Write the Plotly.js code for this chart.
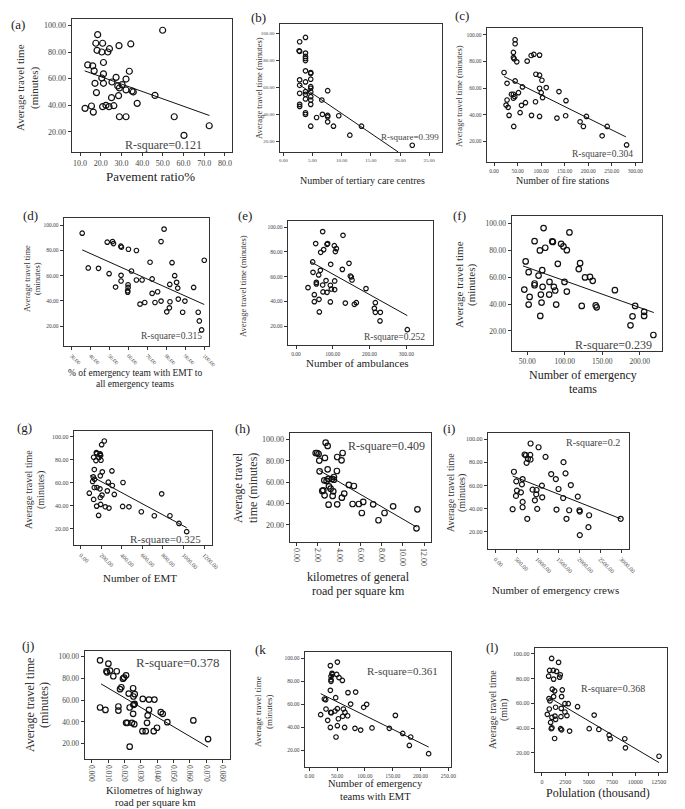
<!DOCTYPE html>
<html><head><meta charset="utf-8">
<script src="https://cdn.plot.ly/plotly-3.0.1.min.js"></script>
<style>html,body{margin:0;padding:0;background:#fff}#c{width:685px;height:809px}</style>
</head><body><div id="c"></div>
<script>
// ---- data (y = average travel time, minutes) ----
const aX=[18.5,49.9,17.6,20.9,28.8,34.5,18.2,20.5,23.4,24.2,13.7,16.1,16.8,21.3,21.3,33.8,27.4,32.2,20.5,17.2,21.3,25.4,28.2,30.3,29.0,32.2,35.1,35.7,17.9,46.2,28.6,25.2,37.6,15.5,20.9,22.5,24.0,26.3,12.4,16.4,29.0,32.2,55.5,72.4,60.2];
const aY=[93.2,96.5,86.7,86.7,84.9,86.2,81.4,80.1,80.1,82.6,70.4,69.7,65.9,72.2,63.6,65.6,61.0,59.7,60.5,56.5,56.5,57.5,54.5,55.5,53.0,51.5,50.7,50.0,49.5,47.4,47.2,45.7,41.4,39.4,38.9,39.9,38.9,39.6,37.6,34.8,31.3,31.3,31.3,24.5,17.2];
const aFitX=[12.2,72.5], aFitY=[65.9,32.2];

const bX=[2.8,3.8,2.7,2.8,3.8,3.8,3.8,3.8,3.8,4.7,4.7,4.7,2.8,3.8,4.7,4.7,2.8,7.6,2.8,3.8,3.8,4.7,4.7,4.7,4.7,3.8,6.6,2.8,2.8,3.8,3.8,6.7,7.6,7.6,5.7,9.5,7.6,4.7,8.6,13.4,11.4,22.1];
const bY=[93.8,97.0,87.1,86.6,85.4,82.9,81.4,79.9,72.3,71.0,70.3,66.1,65.6,64.1,60.6,59.4,61.6,57.6,55.7,56.9,54.9,56.7,53.2,50.7,47.5,51.5,50.7,47.5,46.0,41.3,40.1,40.1,39.3,38.3,37.8,39.1,34.6,31.4,31.4,31.4,24.7,17.3];
const bFitX=[2.8,19.7], bFitY=[61.9,12.3];

const cX=[44.8,44.8,41.2,41.2,42.7,48.3,70.4,78.9,84.6,96.7,21.3,88.9,96.7,101.7,44.8,27.7,96.7,110.9,60.4,137.9,100.2,51.9,37,41.2,44.1,41.2,103.1,27.7,152.8,88.1,66.8,25.6,58.3,29.9,55.4,32,79.6,96.7,152.1,133.6,196.2,182.7,189.8,41.9,240.3,229.6,281.5];
const cY=[96.2,93.2,86.7,82.9,81.9,79.7,80.2,84.4,85.2,84.7,71.7,70.4,69.7,65.9,65.4,63.6,59.9,60.4,60.9,57.4,56.6,56.6,55.4,55.4,53.6,52.4,52.9,51.1,50.6,49.8,49.1,47.3,47.1,45.6,41.6,39.6,39.6,38.8,39.3,37.6,38.8,34.8,31.3,31.3,31.3,24.3,17.5];
const cFitX=[21.3,280], cFitY=[68.7,23.5];

const dX=[35.6,78.8,48.8,51.6,52.1,56.0,56.3,60.0,64.2,77.2,38.8,44.2,71.4,83.0,100,49.8,56.1,61.6,84.4,72.5,64.2,67.2,56.1,85.4,59.8,81.8,53.2,59.8,86.0,94.4,59.6,59.6,75.4,72.5,86.3,89.8,77.2,81.9,74.0,68.6,66.1,81.6,80.2,88.6,96.8,97.4,98.6];
const dY=[93.6,96.8,86.5,87.0,85.4,83.3,82.5,80.9,79.9,87.0,66.1,65.8,70.6,70.3,72.2,61.6,60.3,63.7,60.0,57.4,56.6,56.6,55.8,54.7,52.8,53.1,51.0,50.7,50.2,50.7,48.1,47.0,47.3,46.0,41.5,39.9,39.9,39.4,38.8,38.8,37.5,34.6,31.4,31.1,31.1,24.2,17.1];
const dFitX=[35.6,100], dFitY=[80.4,37.2];

const eX=[72.5,127.8,53.5,84.3,86.0,104.2,109.7,107.0,75.2,67.1,45.3,94.3,144.1,126.0,46.2,66.2,61.6,147.7,150.4,152.3,105.1,81.6,55.3,55.3,72.5,93.4,32.6,96.1,105.1,190.3,49.8,73.4,84.3,62.5,49.8,93.4,134.1,164.0,158.6,215.7,213.0,215.7,229.3,63.4,228.4,302.7];
const eY=[96.5,93.5,86.8,86.2,86.8,85.1,82.7,80.3,81.9,79.7,71.9,70.0,70.8,65.9,63.5,65.1,61.4,60.5,59.7,57.3,56.5,56.8,55.4,54.1,53.2,53.0,51.1,50.0,49.5,50.3,45.4,47.6,47.3,41.6,39.7,39.5,38.6,38.9,37.6,38.9,34.3,31.1,31.1,31.4,24.1,17.0];
const eFitX=[39,302.7], eFitY=[72.2,28.4];

const fX=[71.7,106.2,59.7,83.2,84.1,95.1,98.2,73.9,66.8,102.7,47.8,90.7,120.4,118.6,51.8,69.9,65.0,127.0,133.6,137.2,99.6,79.6,59.7,59.7,70.4,85.4,46.0,102.7,87.2,166.8,53.1,79.2,68.1,69.0,51.8,88.5,122.6,141.2,142.5,193.8,205.8,205.8,190.3,67.3,187.6,218.1];
const fY=[96.5,93.3,86.8,86.6,86.2,84.8,82.9,81.9,79.9,80.1,71.7,69.9,70.4,66.0,63.7,65.2,61.2,59.8,60.2,57.3,56.5,56.5,55.3,54.0,52.8,52.8,50.8,49.3,50.1,50.3,45.3,47.1,47.1,41.1,39.6,39.6,38.6,39.1,37.6,38.6,34.2,31.2,30.9,31.2,24.2,17.0];
const fFitX=[44.2,218.6], fFitY=[68.4,33.7];

const gX=[227.6,201.6,150,153,185,192,188,123.6,146,195,175,130,208,302,188.6,120,133,113.8,266.7,410,305.7,130,156,185,257,81.3,325,787,205,188.6,123.6,192,153,237,273,406.5,468,588.6,172,715.4,868,956,1031];
const gY=[96.5,93.3,86.4,85.5,84.9,83.8,85.2,82.3,79.4,79.7,82.0,71.6,69.6,70.4,66.1,65.2,63.2,61.2,60.6,60.3,57.7,55.9,55.9,54.8,53.0,51.0,49.9,50.4,49.3,47.2,45.5,41.2,39.7,39.1,38.0,39.4,39.1,34.8,31.6,31.3,31.3,24.6,17.4];
const gFitX=[87.8,1031], gFitY=[66.4,20.9];

const hX=[2.73,2.92,1.79,1.94,2.07,4.33,2.66,2.13,3.82,4.23,2.92,2.16,3.79,3.51,3.32,3.51,2.98,2.82,2.60,4.92,5.39,3.04,3.20,2.41,2.63,2.51,3.45,3.39,4.48,4.26,3.01,3.82,5.27,5.86,6.27,6.14,7.21,7.71,8.28,9.09,11.38,11.29];
const hY=[96.9,93.8,87.2,87.2,86.3,87.2,82.6,80.1,83.5,80.4,72.0,70.1,70.4,64.8,63.0,62.3,63.0,61.1,61.7,57.4,56.4,56.1,53.9,51.8,47.7,52.4,51.4,47.1,49.3,45.5,39.0,39.3,39.6,39.6,41.5,31.2,39.3,24.4,31.2,37.4,34.6,16.9];
const hFitX=[2.13,11.29], hFitY=[71.0,18.1];

const iX=[841,1032,698,730,833,778,841,746,1198,1627,444,1333,1675,1444,651,500,635,1111,1802,1508,889,984,976,516,611,492,1119,1619,1968,944,651,651,1000,1460,1762,2008,2016,762,1698,2238,413,2222,2016,2992];
const iY=[96.3,93.1,86.8,86.2,86.5,83.1,82.5,79.6,84.8,80.2,71.9,69.9,70.5,65.6,65.6,63.6,61.0,59.9,60.4,57.0,56.4,56.1,52.4,55.6,54.1,51.0,49.8,49.2,50.4,47.2,45.8,41.2,39.8,39.2,38.6,38.6,37.5,31.2,31.2,34.3,39.5,24.0,17.1,31.2];
const iFitX=[413,2992], iFitY=[68.2,31.2];

const jX=[0.0051,0.0102,0.0090,0.0094,0.0112,0.0153,0.0132,0.0210,0.0198,0.0191,0.0181,0.0173,0.0253,0.0226,0.0263,0.0255,0.0312,0.0350,0.0383,0.0051,0.0084,0.0163,0.0163,0.0232,0.0259,0.0262,0.0255,0.0350,0.0422,0.0434,0.0253,0.0342,0.0462,0.0338,0.0210,0.0218,0.0246,0.0260,0.0399,0.0310,0.0330,0.0379,0.0621,0.0711,0.0232];
const jY=[96.6,93.6,86.6,85.6,87.2,86.6,82.0,82.9,80.8,79.8,71.9,70.1,71.0,66.1,65.5,63.4,61.2,60.6,60.6,53.3,51.1,54.2,50.5,53.3,56.3,56.6,55.8,51.1,49.0,47.5,47.5,46.0,39.8,39.2,39.2,39.2,39.2,38.0,34.7,31.6,31.6,31.6,41.4,24.3,17.3];
const jFitX=[0.0057,0.0711], jFitY=[75.0,16.9];

const kX=[50.4,37.8,40.8,41.4,39.0,39.0,39.0,49.2,53.4,59.4,37.8,69.5,83.3,47.4,27.0,29.4,74.3,103.1,97.7,61.2,50.4,30.0,64.1,38.4,39.6,46.2,20.4,68.9,60.0,154.7,52.2,33.0,50.4,37.8,63.5,82.1,92.3,112.7,143.9,167.9,182.3,48.0,179.9,214.6];
const kY=[96.5,93.4,86.7,85.8,84.1,81.2,79.8,85.8,83.0,80.6,72.0,70.0,70.5,65.6,64.5,63.9,60.1,59.9,57.3,55.8,56.1,55.8,52.9,52.9,52.6,54.1,50.9,50.0,49.5,50.3,47.4,46.0,41.4,39.9,39.9,39.1,37.6,39.4,39.1,34.7,31.6,31.6,24.3,17.1];
const kFitX=[20.4,214.6], kFitY=[69.1,22.9];

const lX=[1033,1781,819,1211,1567,1959,1888,712,1246,1104,1353,2172,1246,2101,748,855,2457,2813,3810,2066,1460,783,2457,570,1389,2030,2671,5591,1068,1460,926,1068,997,1994,2101,2956,5057,6090,7194,7301,1353,8868,8939,12536];
const lY=[96.2,93.0,86.5,86.5,85.7,83.0,81.1,81.9,79.5,71.4,70.0,70.8,65.4,65.4,63.8,61.9,59.7,59.7,57.3,55.9,56.8,55.4,53.0,51.1,49.7,49.2,50.0,50.5,48.6,47.0,44.6,40.3,39.5,39.5,38.6,37.6,39.5,38.9,34.3,31.4,31.6,31.4,24.1,17.3];
const lFitX=[1033,12536], lFitY=[63.5,12.2];

// tick values
const yTicks=[20,40,60,80,100];
const aXTicks=[10,20,30,40,50,60,70,80];
const bXTicks=[0,5,10,15,20,25];
const cXTicks=[0,50,100,150,200,250,300];
const dXTicks=[30,40,50,60,70,80,90,100];
const eXTicks=[0,100,200,300];
const fXTicks=[50,100,150,200];
const gXTicks=[0,200,400,600,800,1000,1200];
const hXTicks=[0,2,4,6,8,10,12];
const iXTicks=[0,500,1000,1500,2000,2500,3000];
const jXTicks=[0,0.01,0.02,0.03,0.04,0.05,0.06,0.07,0.08];
const kXTicks=[0,50,100,150,200,250];
const lXTicks=[0,2500,5000,7500,10000,12500];

// text
const panelLabels=['(a)','(b)','(c)','(d)','(e)','(f)','(g)','(h)','(i)','(j)','(k','(l)'];
const rSquares=['R-square=0.121','R-square=0.399','R-square=0.304','R-square=0.315','R-square=0.252','R-square=0.239','R-square=0.325','R-square=0.409','R-square=0.2','R-square=0.378','R-square=0.361','R-square=0.368'];
const xTitles=[['Pavement ratio%'],['Number of tertiary care centres'],['Number of fire stations'],
  ['% of emergency team with EMT to','all emergency teams'],['Number of ambulances'],['Number of emergency','teams'],
  ['Number of EMT'],['kilometres of general','road per square km'],['Number of emergency crews'],
  ['Kilometres of highway','road per square km'],['Number of emergency','teams with EMT'],['Polulation (thousand)']];
const yTitles=[['Average travel time','(minutes)'],['Average travel time (minutes)'],['Average travel time (minutes)'],
  ['Average travel time','(minutes)'],['Average travel time (minutes)'],['Average travel time','(minutes)'],
  ['Average travel time','(minutes)'],['Average travel','time (minutes)'],['Average travel time','(minutes)'],
  ['Average travel time','(minutes)'],['Average travel time','(minutes)'],['Average travel time','(min)']];

// ---- layout / style per panel (pixel positions) ----
const W=685,H=809;
const P=[
 {x:aX,y:aY,fx:aFitX,fy:aFitY,box:[72,232,19,152],xr:[6.1,83.4],yr:[4.7,105],xt:aXTicks,xf:'.1f',ta:0,tf:8,ms:6,
  lab:[18,24],yt:[[20,34],88,11],xtl:[150,[176],13],rs:[163,145,12]},
 {x:bX,y:bY,fx:bFitX,fy:bFitY,box:[280,442,24,152],xr:[-0.57,27.2],yr:[12.3,106.9],xt:bXTicks,xf:'.2f',ta:0,tf:5,ms:4.5,
  lab:[258,17],yt:[[259],88,8.5],xtl:[362,[180],10],rs:[410,137,9]},
 {x:cX,y:cY,fx:cFitX,fy:cFitY,box:[487,642,28,162],xr:[-14.9,314.2],yr:[4.7,105],xt:cXTicks,xf:'.2f',ta:0,tf:5.5,ms:4.5,
  lab:[462,16],yt:[[459],96,8.5],xtl:[562,[180],10],rs:[602,154,9.5]},
 {x:dX,y:dY,fx:dFitX,fy:dFitY,box:[64,209,218,346],xr:[26,102.5],yr:[4.4,105.6],xt:dXTicks,xf:'.2f',ta:45,tf:5.5,ms:4.5,
  lab:[30,215],yt:[[27,37],279,8.5],xtl:[135,[373,384.5],9.5],rs:[171,336,9.5]},
 {x:eX,y:eY,fx:eFitX,fy:eFitY,box:[288,433,221,345],xr:[-21.8,372.5],yr:[4.6,105.1],xt:eXTicks,xf:'.2f',ta:0,tf:5.5,ms:4.5,
  lab:[245,215],yt:[[243],286,8.5],xtl:[357,[363],11],rs:[394,337,9.5]},
 {x:fX,y:fY,fx:fFitX,fy:fFitY,box:[512,662,216,351],xr:[29.6,229.6],yr:[5.1,105.5],xt:fXTicks,xf:'.2f',ta:0,tf:7.5,ms:5.5,
  lab:[459,216],yt:[[459,472],285,11],xtl:[583,[375,389],12],rs:[613,345,12]},
 {x:gX,y:gY,fx:gFitX,fy:gFitY,box:[74,212,431,545],xr:[-68,1278],yr:[5.8,105.2],xt:gXTicks,xf:'.2f',ta:45,tf:6,ms:4.5,
  lab:[25,427],yt:[[28,41],490,10],xtl:[140,[578],11],rs:[165,539,11]},
 {x:hX,y:hY,fx:hFitX,fy:hFitY,box:[290,431,433,542],xr:[-0.63,12.66],yr:[4.1,105.9],xt:hXTicks,xf:'.2f',ta:90,tf:8,ms:5.5,
  lab:[242,428],yt:[[238,253],488,12],xtl:[358,[577,591],12],rs:[387,446,12]},
 {x:iX,y:iY,fx:iFitX,fy:iFitY,box:[488,629,433,549],xr:[-175,3190],yr:[5.1,105.4],xt:iXTicks,xf:'.2f',ta:45,tf:6,ms:5,
  lab:[449,428],yt:[[450,462],493,10],xtl:[555,[590],11],rs:[593,443,10]},
 {x:jX,y:jY,fx:jFitX,fy:jFitY,box:[85,230,651,759],xr:[-0.0041,0.0845],yr:[6.0,105.2],xt:jXTicks,xf:'.3f',ta:90,tf:7.5,ms:5.5,
  lab:[28,645],yt:[[30,44],705,12],xtl:[155,[790.5,802.5],10.5],rs:[178,662,13]},
 {x:kX,y:kY,fx:kFitX,fy:kFitY,box:[305,451,652,767],xr:[-7.8,254.8],yr:[5.6,105.2],xt:kXTicks,xf:'.2f',ta:0,tf:5.5,ms:4.5,
  lab:[260,649],yt:[[258,269],712,9],xtl:[375,[783.5,796],10.5],rs:[402,671,11]},
 {x:lX,y:lY,fx:lFitX,fy:lFitY,box:[535,667,648,772],xr:[-748,13390],yr:[4.6,104.6],xt:lXTicks,xf:'d',ta:0,tf:6,ms:4.5,
  lab:[492,647],yt:[[492,504],710,10],xtl:[598,[793],12],rs:[613,688,10]}
];

const FONT='Liberation Serif, DejaVu Serif, serif';
const traces=[], annotations=[];
const layout={width:W,height:H,margin:{l:0,r:0,t:0,b:0},paper_bgcolor:'#fff',plot_bgcolor:'#fff',
  showlegend:false,font:{family:FONT,color:'#222'}};
const px=v=>v/W, py=v=>1-v/H;
function note(x,y,text,size,color,angle){
  annotations.push({xref:'paper',yref:'paper',x:px(x),y:py(y),text:text,showarrow:false,textangle:angle||0,
    xanchor:'center',yanchor:'middle',font:{size:size,color:color}});
}

P.forEach((p,i)=>{
  const n=i+1, xa='x'+(n===1?'':n), ya='y'+(n===1?'':n);
  const xk='xaxis'+(n===1?'':n), yk='yaxis'+(n===1?'':n);
  traces.push({type:'scatter',mode:'markers',x:p.x,y:p.y,xaxis:xa,yaxis:ya,
    marker:{symbol:'circle-open',size:p.ms,color:'#111',line:{width:1.2,color:'#111'}},hoverinfo:'skip'});
  traces.push({type:'scatter',mode:'lines',x:p.fx,y:p.fy,xaxis:xa,yaxis:ya,
    line:{color:'#111',width:1},hoverinfo:'skip'});
  const common={showline:true,linecolor:'#333',linewidth:1.4,mirror:true,showgrid:false,zeroline:false,
    ticks:'outside',ticklen:3,tickwidth:1,tickcolor:'#333',tickfont:{size:p.tf,color:'#444',family:FONT},fixedrange:true};
  layout[xk]=Object.assign({},common,{domain:[px(p.box[0]),px(p.box[1])],range:p.xr,anchor:ya,
    tickvals:p.xt,tickformat:p.xf,tickangle:p.ta});
  layout[yk]=Object.assign({},common,{domain:[py(p.box[3]),py(p.box[2])],range:p.yr,anchor:xa,
    tickvals:yTicks,tickformat:'.2f'});
  note(p.lab[0],p.lab[1],panelLabels[i],13,'#222');
  yTitles[i].forEach((t,k)=>note(p.yt[0][k],p.yt[1],t,p.yt[2],'#333',-90));
  xTitles[i].forEach((t,k)=>note(p.xtl[0],p.xtl[1][k],t,p.xtl[2],'#222'));
  note(p.rs[0],p.rs[1],rSquares[i],p.rs[2],'#444');
});
layout.annotations=annotations;
Plotly.newPlot('c',traces,layout,{displayModeBar:false,staticPlot:true});
</script></body></html>
